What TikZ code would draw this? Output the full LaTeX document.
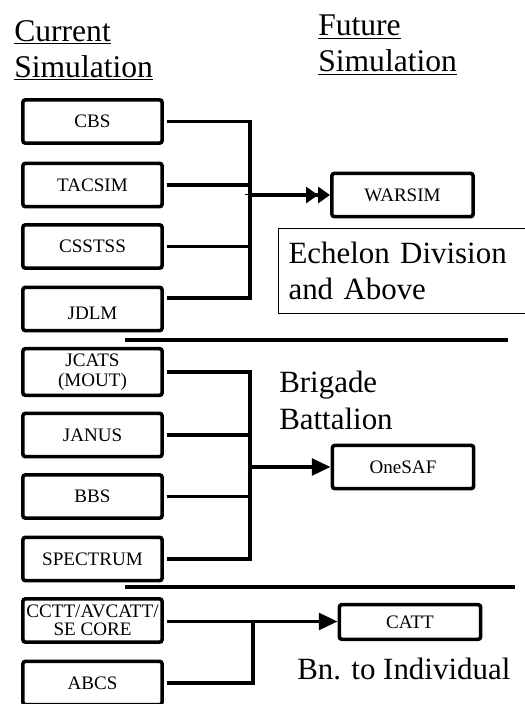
\documentclass[tikz,border=0pt]{standalone}
\usepackage{fontspec}
\setmainfont{Liberation Serif}
\usetikzlibrary{positioning,arrows.meta,calc}

\begin{document}
\begin{tikzpicture}[
  x=0.75pt, y=-0.75pt,
  sim/.style ={draw, rounded corners=2pt, line width=2.7pt, align=center,
               minimum width=104.5pt, minimum height=32.5pt, inner sep=1pt,
               font=\fontsize{14.3}{15}\selectfont},
  fut/.style ={sim, minimum width=106pt},
  head/.style={anchor=north west, inner sep=0pt, align=left,
               font=\fontsize{23.7}{27}\selectfont},
  big/.style ={anchor=north west, inner sep=0pt, align=left,
               font=\fontsize{23.2}{27.5}\selectfont},
  wire/.style={line width=2.5pt},
  tip/.style ={wire, -{Triangle[length=14pt,width=12.5pt]}},
  tip2/.style={wire, -{Triangle[length=9pt,width=12pt] Triangle[length=9pt,width=12pt]}},
  sep/.style ={line width=2.4pt},
]
\useasboundingbox (0,0) rectangle (525,704);
% ---------------- headers ----------------
\node[head] (cur) at (14,20) {\underline{Current}\\\underline{Simulation}};
\node[head] (fts) at (318,15) {\underline{Future}\\\underline{Simulation}};
% ---------------- current simulations (left column) ----------------
\node[sim] (cbs)      at (92.5,121.5) {CBS};
\node[sim] (tacsim)   at (92.5,185)   {TACSIM};
\node[sim] (csstss)   at (92.5,246.5) {CSSTSS};
\node[sim, text height=15.5pt, text depth=0pt] (jdlm) at (92.5,309) {JDLM};
\node[sim, minimum height=35pt] (jcats) at (92.5,372) {JCATS\\(MOUT)};
\node[sim] (janus)    at (92.5,435)   {JANUS};
\node[sim] (bbs)      at (92.5,496.5) {BBS};
\node[sim] (spectrum) at (92.5,559)   {SPECTRUM};
\node[sim, font=\fontsize{14.3}{13.5}\selectfont] (cctt) at (92.5,620.5) {CCTT/AVCATT/\\SE CORE};
\node[sim] (abcs)     at (92.5,683)   {ABCS};
% ---------------- future simulations (right) ----------------
\node[fut] (warsim) at (402.5,195) {WARSIM};
\node[fut] (onesaf) at (403,467)   {OneSAF};
\node[fut, minimum height=26pt] (catt) at (410,622) {CATT};
% ---------------- echelon labels ----------------
\node[big, draw, line width=0.8pt, text width=200pt, inner xsep=7.5pt,
      minimum height=63.75pt] (echdiv) at (278,228) {Echelon Division\\and Above};
\node[big] (brig) at (279,371) {Brigade\\Battalion};
\node[big, anchor=base west] (bnind) at (297,679) {Bn. to Individual};
% ---------------- separators ----------------
\draw[sep] (125,340) -- (508,340);
\draw[sep] (125,587) -- (515,587);
% ---------------- division bus ----------------
\coordinate (b1) at (250,195);
\draw[wire] ([xshift=2pt]cbs.east) -| (b1);
\draw[wire] ([xshift=2pt]tacsim.east) -- (tacsim.east -| b1);
\draw[wire] ([xshift=2pt]csstss.east) -- (csstss.east -| b1);
\draw[wire] ([xshift=2pt,yshift=8.25pt]jdlm.east) -| (b1);
\draw[wire] ($(b1)+(-3,-1.5)$) -- ($(b1)+(-3,0)$ |- csstss.east);
\draw[tip2] (b1) -- (b1 -| warsim.west);
% ---------------- brigade bus ----------------
\coordinate (b2) at (250,467);
\draw[wire] ([xshift=2pt]jcats.east) -| (b2);
\draw[wire] ([xshift=2pt]janus.east) -- (janus.east -| b2);
\draw[wire] ([xshift=2pt]bbs.east) -- (bbs.east -| b2);
\draw[wire] ([xshift=2pt]spectrum.east) -| (b2);
\draw[tip] (b2) -- (b2 -| onesaf.west);
% ---------------- individual bus ----------------
\coordinate (b3) at (253,621.5);
\draw[tip] ([xshift=2pt]cctt.east |- b3) -- (b3 -| catt.west);
\draw[wire] ([xshift=2pt]abcs.east) -| (b3);
\end{tikzpicture}
\end{document}
